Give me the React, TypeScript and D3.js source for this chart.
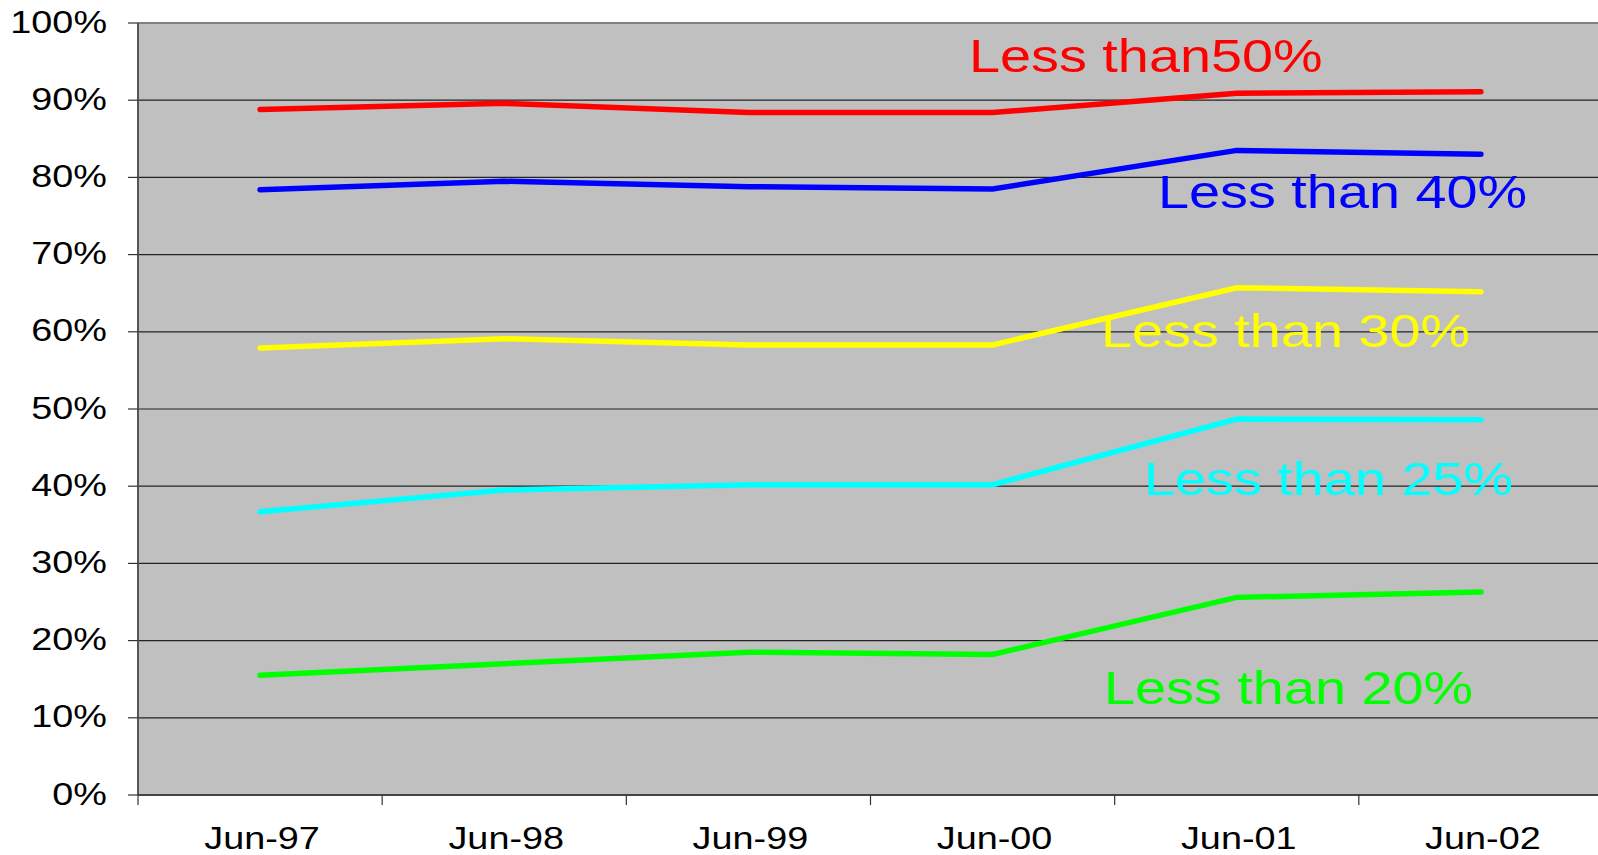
import React from "react";
import * as d3 from "d3";

const categories = ["Jun-97", "Jun-98", "Jun-99", "Jun-00", "Jun-01", "Jun-02"];
const yTicks = [0, 10, 20, 30, 40, 50, 60, 70, 80, 90, 100];

const less50 = [88.8, 89.6, 88.4, 88.4, 90.9, 91.1];
const less40 = [78.4, 79.5, 78.8, 78.5, 83.5, 83.0];
const less30 = [57.9, 59.1, 58.3, 58.3, 65.7, 65.2];
const less25 = [36.7, 39.5, 40.2, 40.2, 48.7, 48.6];
const less20 = [15.5, 17.0, 18.5, 18.2, 25.6, 26.3];

const seriesNames = ["Less than50%", "Less than 40%", "Less than 30%", "Less than 25%", "Less than 20%"];
const seriesColors = ["#FF0000", "#0000FF", "#FFFF00", "#00FFFF", "#00FF00"];
const seriesValues = [less50, less40, less30, less25, less20];
// label anchor: [x, baseline y]
const labelPos = [
  [969, 72],
  [1158, 208],
  [1101, 347],
  [1144, 495],
  [1104, 704],
];

const W = 1598;
const H = 855;
const left = 138;
const right = 1603;
const top = 23;
const bottom = 795;
const FONT = "'Liberation Sans', Arial, Helvetica, sans-serif";
const SX = 1.22;

export default function App() {
  const x = d3.scaleBand<string>().domain(categories).range([left, right]).padding(0);
  const y = d3.scaleLinear().domain([0, 100]).range([bottom, top]);
  const cx = (c: string) => (x(c) as number) + x.bandwidth() / 2;
  const line = d3
    .line<number>()
    .x((_, i) => cx(categories[i]))
    .y((v) => y(v));

  const boundaries = categories.map((c) => x(c) as number);

  return (
    <svg
      width={W}
      height={H}
      style={{ position: "fixed", left: 0, top: 0, background: "#fff" }}
      fontFamily={FONT}
    >
      <rect x={left} y={top} width={right - left} height={bottom - top} fill="#C0C0C0" />
      {yTicks
        .filter((t) => t > 0 && t < 100)
        .map((t) => (
          <line key={"g" + t} x1={left} x2={right} y1={y(t)} y2={y(t)} stroke="#222" strokeWidth={1.2} />
        ))}
      <line x1={left} x2={right} y1={top} y2={top} stroke="#808080" strokeWidth={2} />
      <line x1={left} x2={left} y1={top} y2={bottom} stroke="#555" strokeWidth={2} />
      <line x1={left} x2={right} y1={bottom} y2={bottom} stroke="#444" strokeWidth={2} />
      {yTicks.map((t) => (
        <g key={"yt" + t}>
          <line x1={128} x2={left} y1={y(t)} y2={y(t)} stroke="#333" strokeWidth={1.2} />
          <text
            transform={`translate(107, ${y(t) + 9.5}) scale(${SX},1)`}
            textAnchor="end"
            fontSize={31}
            fill="#000"
          >
            {t + "%"}
          </text>
        </g>
      ))}
      {boundaries.map((b, i) => (
        <line key={"xt" + i} x1={b} x2={b} y1={bottom} y2={bottom + 10} stroke="#333" strokeWidth={1.2} />
      ))}
      {categories.map((c) => (
        <text
          key={"xl" + c}
          transform={`translate(${cx(c) + 2}, 849) scale(${SX},1)`}
          textAnchor="middle"
          fontSize={31}
          fill="#000"
        >
          {c}
        </text>
      ))}
      {seriesValues.map((vals, i) => (
        <path
          key={"s" + i}
          d={line(vals) || ""}
          fill="none"
          stroke={seriesColors[i]}
          strokeWidth={5.5}
          strokeLinecap="round"
          strokeLinejoin="miter"
        />
      ))}
      {seriesNames.map((n, i) => (
        <text
          key={"lab" + i}
          transform={`translate(${labelPos[i][0]}, ${labelPos[i][1]}) scale(1.2,1)`}
          fontSize={46.5}
          fill={seriesColors[i]}
        >
          {n}
        </text>
      ))}
    </svg>
  );
}
